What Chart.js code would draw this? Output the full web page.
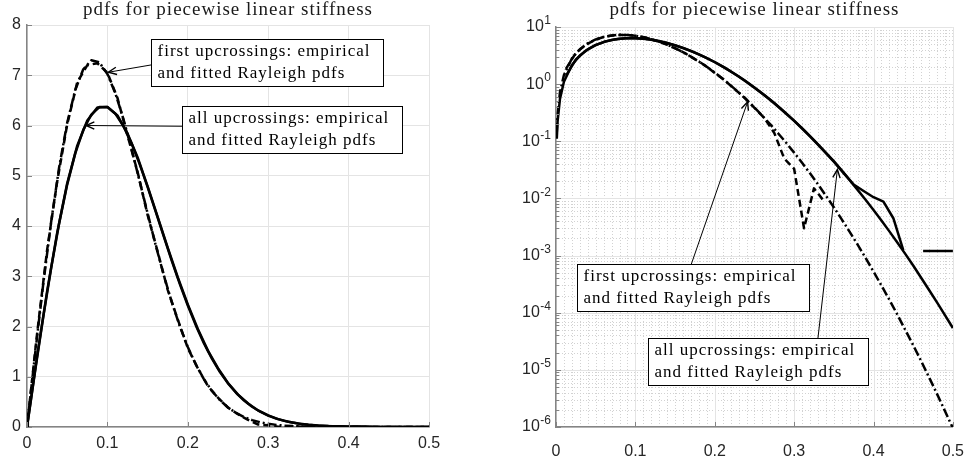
<!DOCTYPE html>
<html>
<head>
<meta charset="utf-8">
<script src="https://cdn.jsdelivr.net/npm/chart.js@4.4.1/dist/chart.umd.min.js"></script>
<style>
  body { margin: 0; background: #fff; }
  #wrap { position: relative; width: 971px; height: 457px; }
  #linChart { position: absolute; left: 0; top: 0; }
  #logChart { position: absolute; left: 480px; top: 0; }
</style>
</head>
<body>
<div id="wrap">
  <canvas id="linChart" width="460" height="457"></canvas>
  <canvas id="logChart" width="491" height="457"></canvas>
</div>
<script>
// amplitude grid for the fitted Rayleigh pdfs
const xFit = [0, 0.001, 0.002, 0.005, 0.01, 0.02, 0.03, 0.04, 0.05, 0.06, 0.07, 0.08, 0.09, 0.10,
  0.11, 0.12, 0.13, 0.14, 0.15, 0.16, 0.17, 0.18, 0.19, 0.20, 0.21, 0.22, 0.23, 0.24, 0.25,
  0.26, 0.27, 0.28, 0.29, 0.30, 0.31, 0.32, 0.33, 0.34, 0.35, 0.36, 0.37, 0.38, 0.39, 0.40,
  0.41, 0.42, 0.43, 0.44, 0.45, 0.46, 0.47, 0.48, 0.49, 0.50];

// fitted Rayleigh pdf, first upcrossings (dash-dot)
const fitFirst = [0, 0.145, 0.290, 0.724, 1.441, 2.820, 4.079, 5.170, 6.054, 6.707, 7.120, 7.298, 7.257, 7.025,
  6.635, 6.125, 5.535, 4.899, 4.253, 3.623, 3.029, 2.488, 2.008, 1.592, 1.242, 0.952, 0.718, 0.533, 0.389,
  0.279, 0.198, 0.137, 0.0941, 0.0634, 0.0421, 0.0275, 0.0177, 0.0112, 0.0070, 0.00429, 0.00260, 0.00155, 9.1e-4, 5.25e-4,
  2.99e-4, 1.68e-4, 9.3e-5, 5.0e-5, 2.7e-5, 1.43e-5, 7.4e-6, 3.8e-6, 1.9e-6, 9.6e-7];

// fitted Rayleigh pdf, all upcrossings (solid)
const fitAll = [0, 0.111, 0.222, 0.553, 1.102, 2.167, 3.162, 4.056, 4.824, 5.446, 5.912, 6.218, 6.367, 6.367,
  6.234, 5.988, 5.648, 5.237, 4.778, 4.292, 3.799, 3.313, 2.849, 2.417, 2.022, 1.669, 1.360, 1.094, 0.868,
  0.681, 0.527, 0.403, 0.304, 0.227, 0.1675, 0.122, 0.0877, 0.0623, 0.0438, 0.0304, 0.0208, 0.0141, 0.00946, 0.00627,
  0.00410, 0.00265, 0.00170, 0.00107, 6.7e-4, 4.1e-4, 2.5e-4, 1.52e-4, 9.1e-5, 5.4e-5];

// histogram bin centres for the empirical pdfs
const xBins = [0, 0.0125, 0.025, 0.0375, 0.05, 0.0625, 0.075, 0.0875, 0.1, 0.1125, 0.125, 0.1375,
  0.15, 0.1625, 0.175, 0.1875, 0.2, 0.2125, 0.225, 0.2375, 0.25, 0.2625, 0.275, 0.2875, 0.3,
  0.3125, 0.325, 0.3375, 0.35, 0.3625, 0.375, 0.3875, 0.4, 0.4125, 0.425, 0.4375, 0.45, 0.4625,
  0.475, 0.4875, 0.5];

// empirical pdf, first upcrossings (dashed)
const empFirst = [0, 1.85, 3.52, 4.88, 6.02, 6.86, 7.20, 7.24, 7.05, 6.55, 5.80, 5.08,
  4.22, 3.49, 2.73, 2.14, 1.57, 1.17, 0.815, 0.585, 0.385, 0.255, 0.14, 0.05, 0.033,
  0.003, 0.015, 0.009, 0, 0, 0, 0, 0, 0, 0, 0, 0, 0,
  0, 0, 0];

// empirical pdf, all upcrossings (solid)
const empAll = [0, 1.40, 2.70, 3.86, 4.85, 5.60, 6.10, 6.36, 6.37, 6.20, 5.84, 5.37,
  4.79, 4.18, 3.57, 2.98, 2.44, 1.95, 1.52, 1.17, 0.875, 0.645, 0.468, 0.330, 0.230,
  0.157, 0.105, 0.069, 0.045, 0.028, 0.0175, 0.0135, 0.0105, 0.0088, 0.0045, 0.00125, 0, 0.0012,
  0.0012, 0.0012, 0.0012];

const xTicks = [0, 0.1, 0.2, 0.3, 0.4, 0.5];
const linYTicks = [0, 1, 2, 3, 4, 5, 6, 7, 8];
const logDecades = [-6, -5, -4, -3, -2, -1, 0, 1];

const titleText = "pdfs for piecewise linear stiffness";
const firstNote = ["first upcrossings: empirical", "and fitted Rayleigh pdfs"];
const allNote = ["all upcrossings: empirical", "and fitted Rayleigh pdfs"];

const AXIS_GRAY = "#848484";
const GRID_GRAY = "#e4e4e4";
const TEXT_DARK = "#262626";
const SERIF = '"Liberation Serif", "Times New Roman", serif';
const SANS = '"Liberation Sans", Arial, sans-serif';

Chart.defaults.font.family = SANS;
Chart.defaults.font.size = 16;
Chart.defaults.color = TEXT_DARK;

function points(xs, ys, logScale) {
    return xs.map((x, i) => ({ x: x, y: (!logScale || ys[i] > 0) ? ys[i] : null }));
}

function buildDatasets(logScale) {
    const base = { borderColor: "#000", borderWidth: 2.5, pointRadius: 0, tension: 0,
                   fill: false, borderJoinStyle: "round", spanGaps: false };
    return [
        Object.assign({ label: "empirical, all", data: points(xBins, empAll, logScale) }, base),
        Object.assign({ label: "Rayleigh, all", data: points(xFit, fitAll, logScale) }, base),
        Object.assign({ label: "empirical, first", data: points(xBins, empFirst, logScale),
                        borderDash: [7, 4] }, base),
        Object.assign({ label: "Rayleigh, first", data: points(xFit, fitFirst, logScale),
                        borderDash: [9, 3, 2, 3] }, base),
    ];
}

function drawArrow(ctx, x0, y0, x1, y1) {
    ctx.lineWidth = 1;
    ctx.beginPath();
    ctx.moveTo(x0, y0);
    ctx.lineTo(x1, y1);
    ctx.stroke();
    const a = Math.atan2(y1 - y0, x1 - x0), len = 9, spread = 0.42;
    ctx.lineWidth = 1.4;
    ctx.beginPath();
    ctx.moveTo(x1 - len * Math.cos(a - spread), y1 - len * Math.sin(a - spread));
    ctx.lineTo(x1, y1);
    ctx.lineTo(x1 - len * Math.cos(a + spread), y1 - len * Math.sin(a + spread));
    ctx.stroke();
}

// title, inward tick marks, text boxes with arrows
const decorPlugin = {
    id: "decor",
    beforeDraw(chart, args, opts) {
        if (!opts.logGrid) return;
        const ctx = chart.ctx, area = chart.chartArea;
        const xs = chart.scales.x, ys = chart.scales.y;
        ctx.save();
        // dotted minor grid
        ctx.strokeStyle = "#d2d2d2";
        ctx.lineWidth = 1;
        ctx.setLineDash([1, 2]);
        ctx.beginPath();
        for (let k = 1; k < 50; k++) {
            if (k % 10 === 0) continue;
            const px = Math.round(xs.getPixelForValue(k / 100)) + 0.5;
            ctx.moveTo(px, area.top);
            ctx.lineTo(px, area.bottom);
        }
        logDecades.slice(0, -1).forEach(d => {
            for (let m = 2; m <= 9; m++) {
                const py = Math.round(ys.getPixelForValue(m * Math.pow(10, d))) + 0.5;
                ctx.moveTo(area.left, py);
                ctx.lineTo(area.right, py);
            }
        });
        ctx.stroke();
        // solid major grid
        ctx.setLineDash([]);
        ctx.strokeStyle = GRID_GRAY;
        ctx.beginPath();
        xTicks.forEach(v => {
            const px = Math.round(xs.getPixelForValue(v)) + 0.5;
            ctx.moveTo(px, area.top);
            ctx.lineTo(px, area.bottom);
        });
        logDecades.forEach(d => {
            const py = Math.round(ys.getPixelForValue(Math.pow(10, d))) + 0.5;
            ctx.moveTo(area.left, py);
            ctx.lineTo(area.right, py);
        });
        ctx.stroke();
        ctx.restore();
    },
    afterDraw(chart, args, opts) {
        const ctx = chart.ctx, area = chart.chartArea;
        const xs = chart.scales.x, ys = chart.scales.y;
        ctx.save();

        // title
        ctx.font = "19px " + SERIF;
        ctx.letterSpacing = "1px";
        ctx.fillStyle = "#1a1a1a";
        ctx.textAlign = "center";
        ctx.textBaseline = "alphabetic";
        ctx.fillText(opts.title, (area.left + area.right) / 2, area.top - opts.titleGap);

        // inward ticks
        ctx.letterSpacing = "0px";
        ctx.strokeStyle = AXIS_GRAY;
        ctx.lineWidth = 1;
        ctx.beginPath();
        xTicks.forEach(v => {
            const px = Math.round(xs.getPixelForValue(v)) + 0.5;
            ctx.moveTo(px, area.bottom);
            ctx.lineTo(px, area.bottom - 5);
        });
        if (opts.logGrid) {
            logDecades.forEach(d => {
                const py = Math.round(ys.getPixelForValue(Math.pow(10, d))) + 0.5;
                ctx.moveTo(area.left, py);
                ctx.lineTo(area.left + 5, py);
                if (d < 1) {
                    for (let m = 2; m <= 9; m++) {
                        const pm = Math.round(ys.getPixelForValue(m * Math.pow(10, d))) + 0.5;
                        ctx.moveTo(area.left, pm);
                        ctx.lineTo(area.left + 3, pm);
                    }
                }
            });
        } else {
            linYTicks.forEach(v => {
                const py = Math.round(ys.getPixelForValue(v)) + 0.5;
                ctx.moveTo(area.left, py);
                ctx.lineTo(area.left + 5, py);
            });
        }
        ctx.stroke();

        // powers of ten on the log axis
        if (opts.logGrid) {
            ctx.fillStyle = TEXT_DARK;
            ctx.textAlign = "right";
            ctx.textBaseline = "middle";
            logDecades.forEach(d => {
                const py = ys.getPixelForValue(Math.pow(10, d));
                const exp = String(d);
                ctx.font = "12px " + SANS;
                const ew = ctx.measureText(exp).width;
                ctx.fillText(exp, area.left - 5, py - 6);
                ctx.font = "16px " + SANS;
                ctx.fillText("10", area.left - 5 - ew - 0.5, py);
            });
        }

        // text boxes with arrows
        ctx.font = "17px " + SERIF;
        ctx.letterSpacing = "1px";
        opts.notes.forEach(note => {
            const bx = Math.round(xs.getPixelForValue(note.at[0])) + 0.5;
            const by = Math.round(ys.getPixelForValue(note.at[1])) + 0.5;
            const tw = Math.max(...note.lines.map(s => ctx.measureText(s).width));
            const bw = Math.round(tw + 19), bh = 47;
            const sx = bx + note.from[0] * bw, sy = by + note.from[1] * bh;
            ctx.strokeStyle = "#000";
            drawArrow(ctx, sx, sy, xs.getPixelForValue(note.tip[0]), ys.getPixelForValue(note.tip[1]));
            ctx.fillStyle = "#fff";
            ctx.fillRect(bx, by, bw, bh);
            ctx.lineWidth = 1;
            ctx.strokeRect(bx, by, bw, bh);
            ctx.fillStyle = "#000";
            ctx.textAlign = "left";
            ctx.textBaseline = "alphabetic";
            note.lines.forEach((s, i) => ctx.fillText(s, bx + 6, by + 16 + i * 22.5));
        });
        ctx.restore();
    }
};

const xAxis = {
    type: "linear",
    min: 0,
    max: 0.5,
    ticks: { stepSize: 0.1, padding: 7, maxRotation: 0, color: TEXT_DARK },
    grid: { color: GRID_GRAY, drawTicks: false },
    border: { color: AXIS_GRAY, width: 1.5 },
    afterFit: function (scale) { scale.height = 30; }
};

// Linear axes
new Chart(document.getElementById("linChart"), {
    type: "line",
    data: { datasets: buildDatasets(false) },
    options: {
        responsive: false,
        animation: false,
        layout: { padding: { left: 0, top: 25, right: 31, bottom: 0 } },
        plugins: {
            legend: { display: false },
            tooltip: { enabled: false },
            decor: {
                title: titleText,
                titleGap: 10,
                logGrid: false,
                notes: [
                    { lines: firstNote, at: [0.154, 7.73], from: [0, 0.54], tip: [0.1012, 7.06] },
                    { lines: allNote, at: [0.1927, 6.38], from: [0, 0.42], tip: [0.0735, 6.0] }
                ]
            }
        },
        scales: {
            x: xAxis,
            y: {
                type: "linear",
                min: 0,
                max: 8,
                ticks: { stepSize: 1, padding: 6, color: TEXT_DARK },
                grid: { color: GRID_GRAY, drawTicks: false },
                border: { color: AXIS_GRAY, width: 1.5 },
                afterFit: function (scale) { scale.width = 27; }
            }
        }
    },
    plugins: [decorPlugin]
});

// Logarithmic axes
new Chart(document.getElementById("logChart"), {
    type: "line",
    data: { datasets: buildDatasets(true) },
    options: {
        responsive: false,
        animation: false,
        layout: { padding: { left: 76, top: 27, right: 14, bottom: 0 } },
        plugins: {
            legend: { display: false },
            tooltip: { enabled: false },
            decor: {
                title: titleText,
                titleGap: 12,
                logGrid: true,
                notes: [
                    { lines: firstNote, at: [0.0262, 7.15e-4], from: [0.49, 0], tip: [0.2414, 0.49] },
                    { lines: allNote, at: [0.1163, 3.56e-5], from: [0.77, 0], tip: [0.3545, 0.032] }
                ]
            }
        },
        scales: {
            x: Object.assign({}, xAxis, { grid: { display: false } }),
            y: {
                type: "logarithmic",
                min: 1e-6,
                max: 10,
                ticks: { display: false },
                grid: { display: false },
                border: { color: AXIS_GRAY, width: 1.5 },
                afterFit: function (scale) { scale.width = 0; }
            }
        }
    },
    plugins: [decorPlugin]
});
</script>
</body>
</html>
